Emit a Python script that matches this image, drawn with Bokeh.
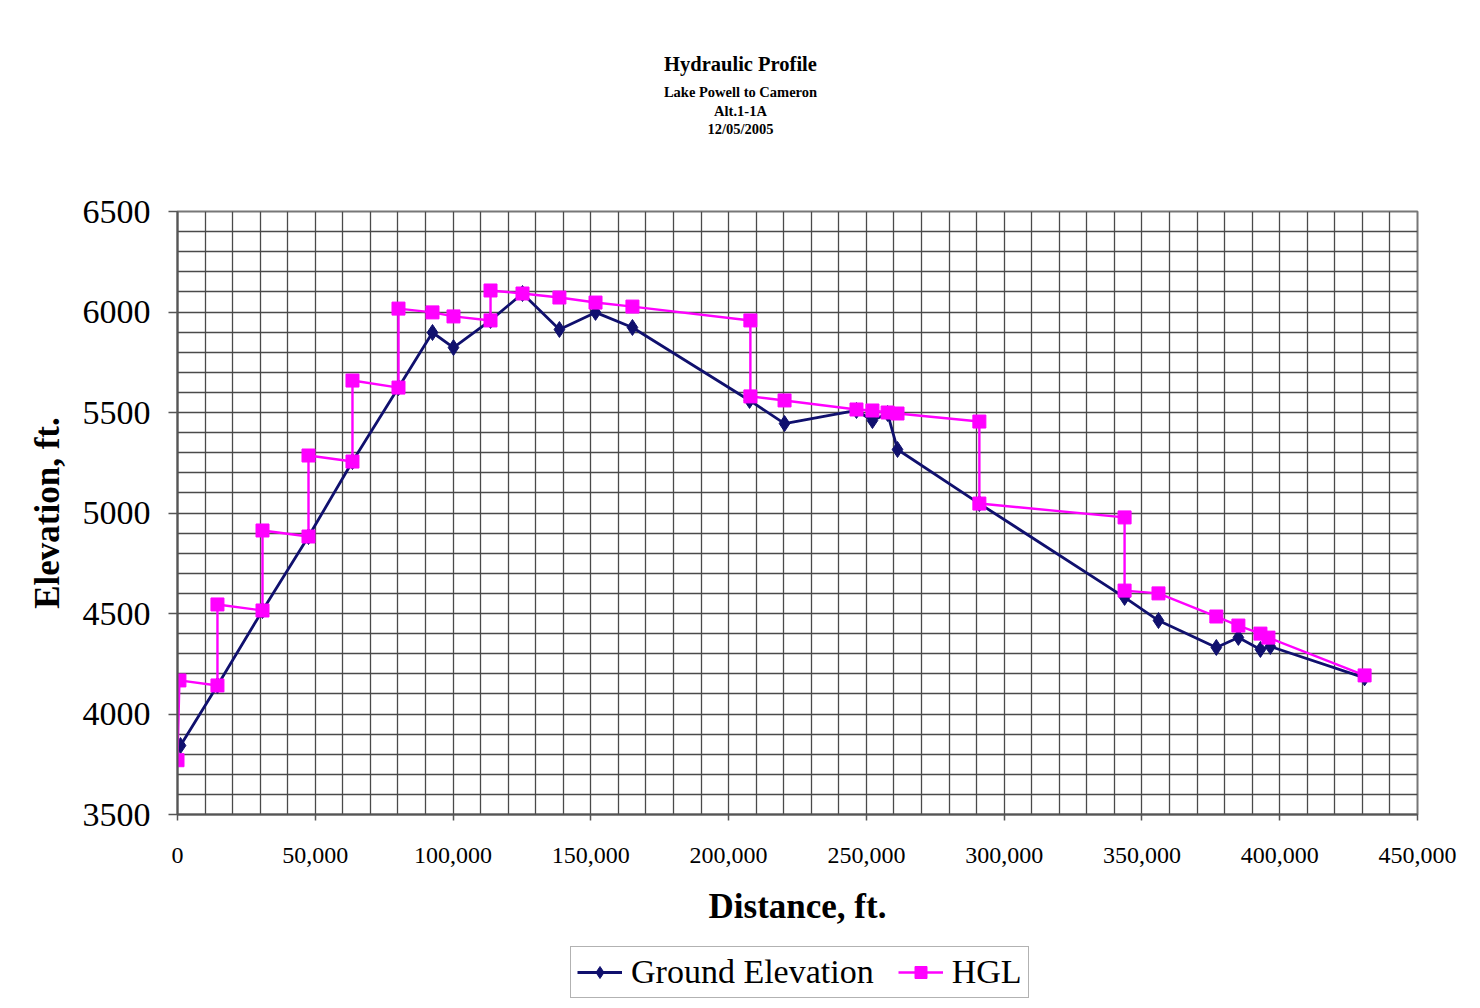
from bokeh.plotting import figure
from bokeh.models import (Range1d, SingleIntervalTicker, NumeralTickFormatter,
                          Legend, LegendItem, Label)
from bokeh.layouts import column
from bokeh.embed import file_html
from bokeh.resources import INLINE

# ---- data ----
ground_x = [1100, 14500, 30850, 47540, 63500, 80200, 92540, 100160, 113600, 125200,
            138600, 151700, 165100, 207600, 220300, 246400, 252200, 257700, 261300,
            291000, 343700, 356000, 377000, 385000, 393000, 396600, 430800]
ground_y = [3843, 4142, 4515, 4883, 5256, 5624, 5898, 5823, 5958, 6092,
            5913, 5998, 5923, 5560, 5445, 5510, 5460, 5495, 5316,
            5047, 4580, 4465, 4331, 4381, 4321, 4336, 4180]

hgl_x = [0, 700, 14500, 14500, 30850, 30850, 47540, 47540, 63500, 63500, 80200, 80200,
         92540, 100160, 113600, 113600, 125200, 138600, 151700, 165100, 207900, 207900,
         220300, 246400, 252200, 257700, 261300, 291000, 291000, 343700, 343700, 356000,
         377000, 385000, 393000, 395900, 430800]
hgl_y = [3770, 4167, 4142, 4545, 4515, 4913, 4883, 5286, 5256, 5659, 5624, 6017,
         5998, 5978, 5958, 6107, 6092, 6072, 6047, 6027, 5958, 5580,
         5560, 5515, 5510, 5500, 5495, 5455, 5047, 4978, 4614, 4600,
         4485, 4440, 4400, 4380, 4192]

title_lines = ["Hydraulic Profile", "Lake Powell to Cameron", "Alt.1-1A", "12/05/2005"]
x_label = "Distance, ft."
y_label = "Elevation, ft."
series_names = ["Ground Elevation", "HGL"]

FONT = "Liberation Serif"
NAVY = "#10106e"
MAGENTA = "#ff00ff"
W = 1464


def blank_fig(h):
    f = figure(width=W, height=h, output_backend="svg", toolbar_location=None,
               x_axis_type=None, y_axis_type=None, x_range=Range1d(0, 1),
               y_range=Range1d(0, 1), min_border=0, title=None)
    f.outline_line_color = None
    f.grid.visible = False
    f.background_fill_color = "white"
    f.border_fill_color = "white"
    return f


# ---- header with the titles (frame is aligned with the chart's frame, left=177) ----
head = blank_fig(150)
title_sizes = ["20.5px", "14.5px", "14.5px", "14.5px"]
title_y = [87, 59, 40, 22]
for txt, sz, yy in zip(title_lines, title_sizes, title_y):
    head.add_layout(Label(x=563, y=yy, x_units="screen", y_units="screen", text=txt,
                          text_font=FONT, text_font_size=sz, text_font_style="bold",
                          text_align="center", text_baseline="middle",
                          text_color="black"))

# ---- main chart ----
p = figure(width=W, height=790, output_backend="svg", toolbar_location=None,
           x_range=Range1d(0, 450000), y_range=Range1d(3500, 6500),
           min_border_left=177, min_border_right=47, min_border_top=61,
           min_border_bottom=126, title=None)
p.background_fill_color = "white"
p.border_fill_color = "white"
p.outline_line_color = "#777777"
p.outline_line_width = 2

p.xaxis.ticker = SingleIntervalTicker(interval=50000)
p.yaxis.ticker = SingleIntervalTicker(interval=500)
p.xaxis.formatter = NumeralTickFormatter(format="0,0")
p.xaxis.axis_label = x_label
p.yaxis.axis_label = y_label
for ax in (p.xaxis, p.yaxis):
    ax.axis_label_text_font = FONT
    ax.axis_label_text_font_style = "bold"
    ax.axis_label_text_font_size = "35px"
    ax.axis_label_text_color = "black"
    ax.major_label_text_font = FONT
    ax.major_label_text_color = "black"
    ax.minor_tick_line_color = None
    ax.axis_line_color = "#555555"
    ax.axis_line_width = 2
    ax.major_tick_line_color = "#555555"
    ax.major_tick_line_width = 1.5
    ax.major_tick_in = 0
p.xaxis.major_label_text_font_size = "24px"
p.yaxis.major_label_text_font_size = "34px"
p.xaxis.major_tick_out = 6
p.yaxis.major_tick_out = 9
p.xaxis.major_label_standoff = 27
p.yaxis.major_label_standoff = 18
p.xaxis.axis_label_standoff = 21
p.yaxis.axis_label_standoff = 13

p.xgrid.ticker = SingleIntervalTicker(interval=10000)
p.ygrid.ticker = SingleIntervalTicker(interval=100)
for g in (p.xgrid, p.ygrid):
    g.grid_line_color = "#4a4a4a"
    g.grid_line_width = 1.3
    g.grid_line_alpha = 1.0

p.line(ground_x, ground_y, line_color=NAVY, line_width=2.8)
p.scatter(ground_x, ground_y, marker="diamond", size=16, fill_color=NAVY,
          line_color=NAVY)
p.line(hgl_x, hgl_y, line_color=MAGENTA, line_width=2.4)
p.scatter(hgl_x, hgl_y, marker="square", size=13, fill_color=MAGENTA,
          line_color=MAGENTA)

# ---- legend strip (proxy glyphs placed outside the visible range) ----
leg = blank_fig(60)
px = [-5, -4]
py = [-5, -4]
lg1 = leg.line(px, py, line_color=NAVY, line_width=2.8)
sg1 = leg.scatter(px, py, marker="diamond", size=16, fill_color=NAVY, line_color=NAVY)
lg2 = leg.line(px, py, line_color=MAGENTA, line_width=2.4)
sg2 = leg.scatter(px, py, marker="square", size=13, fill_color=MAGENTA,
                  line_color=MAGENTA)
legend = Legend(items=[LegendItem(label=series_names[0], renderers=[lg1, sg1]),
                       LegendItem(label=series_names[1], renderers=[lg2, sg2])],
                orientation="horizontal", location=(393, 2))
legend.label_text_font = FONT
legend.label_text_font_size = "34px"
legend.label_text_color = "black"
legend.glyph_width = 45
legend.glyph_height = 30
legend.spacing = 24
legend.padding = 6
legend.margin = 0
legend.border_line_color = "#666666"
legend.border_line_width = 1.5
legend.label_standoff = 9
leg.add_layout(legend, "center")

page = column(head, p, leg, spacing=0)
open("out.html", "w").write(file_html(page, INLINE))
